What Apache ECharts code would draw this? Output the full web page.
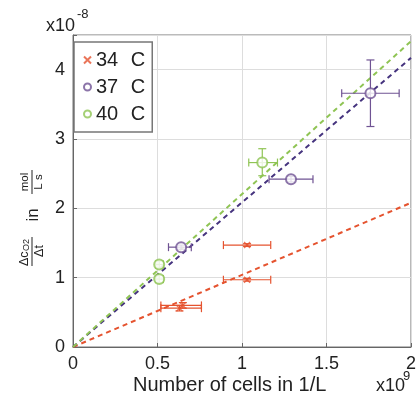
<!DOCTYPE html>
<html><head><meta charset="utf-8">
<script src="https://cdn.jsdelivr.net/npm/echarts@6/dist/echarts.min.js"></script>
<style>html,body{margin:0;padding:0;background:#fff}#c{width:419px;height:399px}</style>
</head><body><div id="c"></div>
<script>
// Data (x in 1e9 cells/L, y in 1e-8 mol/(L s))
const seriesNames = ['34 C', '37 C', '40 C'];
// points: [x, y, xLow, xHigh, yLow, yHigh]
const pts34 = [[0.63, 0.56, 0.52, 0.76, 0.52, 0.60], [0.65, 0.60, 0.52, 0.76, 0.56, 0.64], [1.03, 0.97, 0.89, 1.17, 0.95, 0.99], [1.03, 1.47, 0.89, 1.17, 1.45, 1.49]];
const pts37 = [[0.64, 1.44, 0.565, 0.70, 1.41, 1.47], [1.29, 2.42, 1.16, 1.42, 2.38, 2.46], [1.76, 3.66, 1.59, 1.93, 3.18, 4.14]];
const pts40 = [[0.51, 0.98, 0.49, 0.535, 0.93, 1.03], [0.51, 1.19, 0.49, 0.535, 1.14, 1.24], [1.12, 2.66, 1.04, 1.21, 2.47, 2.86]];
const fit34 = [[0, 0], [2, 2.08]];
const fit37 = [[0, 0], [2, 4.17]];
const fit40 = [[0, 0], [2, 4.41]];
const xTicks = [0, 0.5, 1, 1.5, 2];
const yTicks = [0, 1, 2, 3, 4];

const cRed = '#e5532f', cPur = '#6f5393', cPurLine = '#45337e', cGrn = '#8fc454';
const font = 'Liberation Sans, Arial, sans-serif';

function errSeries(name, data, color) {
  return {
    type: 'custom', name: name, data: data, z: 3, silent: true,
    renderItem: function (params, api) {
      const x = api.value(0), y = api.value(1);
      const p0 = api.coord([api.value(2), y]), p1 = api.coord([api.value(3), y]);
      const q0 = api.coord([x, api.value(4)]), q1 = api.coord([x, api.value(5)]);
      const cap = 4;
      const st = { stroke: color, lineWidth: 1.2 };
      return { type: 'group', children: [
        { type: 'line', shape: { x1: p0[0], y1: p0[1], x2: p1[0], y2: p1[1] }, style: st },
        { type: 'line', shape: { x1: p0[0], y1: p0[1] - cap, x2: p0[0], y2: p0[1] + cap }, style: st },
        { type: 'line', shape: { x1: p1[0], y1: p1[1] - cap, x2: p1[0], y2: p1[1] + cap }, style: st },
        { type: 'line', shape: { x1: q0[0], y1: q0[1], x2: q1[0], y2: q1[1] }, style: st },
        { type: 'line', shape: { x1: q0[0] - cap, y1: q0[1], x2: q0[0] + cap, y2: q0[1] }, style: st },
        { type: 'line', shape: { x1: q1[0] - cap, y1: q1[1], x2: q1[0] + cap, y2: q1[1] }, style: st }
      ]};
    }
  };
}
function fitSeries(data, color) {
  return { type: 'line', data: data, symbol: 'none', silent: true, z: 2,
    lineStyle: { color: color, width: 2, type: [5, 4] } };
}
const txt = '#222';

const chart = echarts.init(document.getElementById('c'));
chart.setOption({
  animation: false,
  backgroundColor: '#fff',
  grid: { left: 73, right: 6, top: 35, bottom: 52, show: true, borderColor: '#777', borderWidth: 1 },
  xAxis: { type: 'value', min: 0, max: 2, interval: 0.5,
    axisLine: { show: true, lineStyle: { color: '#666' } },
    axisTick: { show: true, inside: true, length: 4, lineStyle: { color: '#666' } },
    splitLine: { show: true, lineStyle: { color: '#ddd' } },
    axisLabel: { color: txt, fontSize: 18, fontFamily: font, margin: 8,
      formatter: v => xTicks.indexOf(v) >= 0 ? String(v) : '' } },
  yAxis: { type: 'value', min: 0, max: 4.5, interval: 1,
    axisLine: { show: true, lineStyle: { color: '#666' } },
    axisTick: { show: true, inside: true, length: 4, lineStyle: { color: '#666' } },
    splitLine: { show: true, lineStyle: { color: '#ddd' } },
    axisLabel: { color: txt, fontSize: 18, fontFamily: font, margin: 8,
      formatter: v => yTicks.indexOf(v) >= 0 ? String(v) : '' } },
  legend: { left: 74, top: 42, orient: 'vertical', itemGap: 5, itemWidth: 7, itemHeight: 7,
    data: seriesNames, borderColor: '#777', borderWidth: 1.5, padding: [7, 7, 7, 9],
    backgroundColor: '#fff',
    formatter: function (name) { const s = name.split(' '); return '{n|' + s[0] + '} {c|' + s[1] + '}'; },
    textStyle: { fontSize: 20, color: txt, fontFamily: font, lineHeight: 22,
      rich: { n: { fontSize: 20, fontFamily: font, color: txt }, c: { fontSize: 20, fontFamily: font, color: txt, padding: [0, 0, 0, 7] } } } },
  series: [
    fitSeries(fit34, cRed), fitSeries(fit37, cPurLine), fitSeries(fit40, cGrn),
    errSeries('e34', pts34, cRed), errSeries('e37', pts37, cPur), errSeries('e40', pts40, cGrn),
    { type: 'scatter', name: '34 C', data: pts34.map(p => [p[0], p[1]]), z: 4,
      symbol: 'path://M0,0L10,10M10,0L0,10', symbolSize: 6,
      itemStyle: { color: cRed, borderColor: cRed, borderWidth: 1.3 } },
    { type: 'scatter', name: '37 C', data: pts37.map(p => [p[0], p[1]]), z: 4,
      symbol: 'emptyCircle', symbolSize: 10,
      itemStyle: { color: cPur, borderColor: cPur, borderWidth: 1.2 } },
    { type: 'scatter', name: '40 C', data: pts40.map(p => [p[0], p[1]]), z: 4,
      symbol: 'emptyCircle', symbolSize: 10,
      itemStyle: { color: cGrn, borderColor: cGrn, borderWidth: 1.2 } }
  ],
  graphic: [
    { type: 'text', left: 46, top: 17, style: { text: 'x10', fontSize: 18, fill: txt, fontFamily: font } },
    { type: 'text', left: 77, top: 8, style: { text: '-8', fontSize: 13, fill: txt, fontFamily: font } },
    { type: 'text', left: 376, top: 377, style: { text: 'x10', fontSize: 18, fill: txt, fontFamily: font } },
    { type: 'text', left: 403, top: 370, style: { text: '9', fontSize: 13, fill: txt, fontFamily: font } },
    { type: 'text', left: 133, top: 375, style: { text: 'Number of cells in 1/L', fontSize: 20, fill: txt, fontFamily: font } },
    { type: 'group', x: 32, y: 215, rotation: Math.PI / 2, children: [
      { type: 'text', x: -51, y: -1, style: { text: 'Δc', fontSize: 12.5, fill: txt, fontFamily: font, verticalAlign: 'bottom' } },
      { type: 'text', x: -36, y: -1, style: { text: 'O2', fontSize: 9, fill: txt, fontFamily: font, verticalAlign: 'bottom' } },
      { type: 'line', shape: { x1: -51, y1: 0, x2: -22, y2: 0 }, style: { stroke: txt, lineWidth: 1 } },
      { type: 'text', x: -36, y: 1, style: { text: 'Δt', fontSize: 12.5, fill: txt, fontFamily: font, align: 'center', verticalAlign: 'top' } },
      { type: 'text', x: 0, y: 1, style: { text: 'in', fontSize: 17, fill: txt, fontFamily: font, align: 'center', verticalAlign: 'middle' } },
      { type: 'text', x: 33, y: -1, style: { text: 'mol', fontSize: 11.5, fill: txt, fontFamily: font, align: 'center', verticalAlign: 'bottom' } },
      { type: 'line', shape: { x1: 21, y1: 0, x2: 45, y2: 0 }, style: { stroke: txt, lineWidth: 1 } },
      { type: 'text', x: 33, y: 1, style: { text: 'L s', fontSize: 11.5, fill: txt, fontFamily: font, align: 'center', verticalAlign: 'top' } }
    ] }
  ]
});
</script></body></html>
